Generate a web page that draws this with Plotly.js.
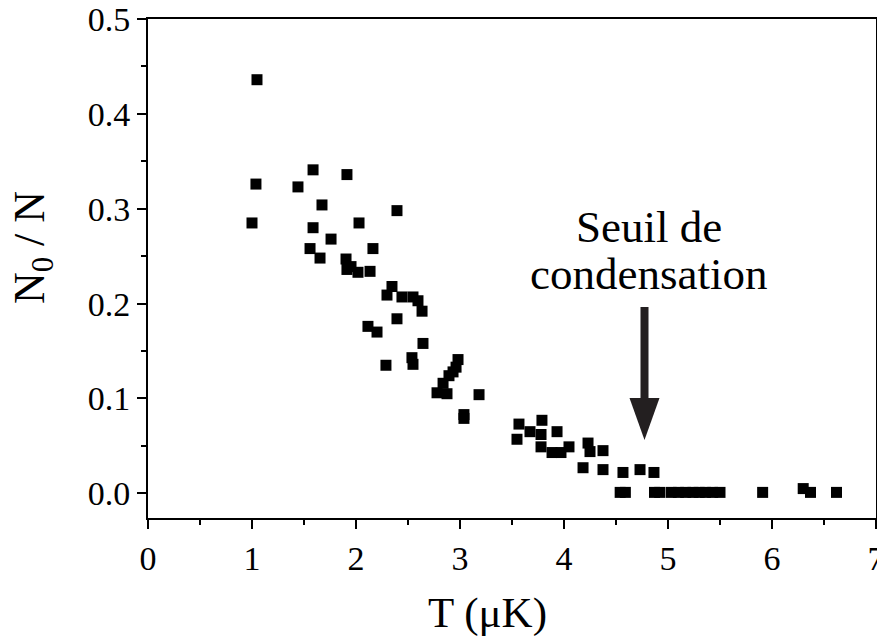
<!DOCTYPE html>
<html>
<head>
<meta charset="utf-8">
<script src="https://cdn.plot.ly/plotly-3.0.1.min.js"></script>
<style>html,body{margin:0;padding:0;background:#fff;}#chart{width:877px;height:641px;}</style>
</head>
<body>
<div id="chart"></div>
<script>
// Temperature T (µK)
const T = [
  1.048, 1.038, 1.00, 1.587, 1.442, 1.913, 1.673, 2.394, 1.587, 2.029,
  1.76, 1.558, 1.654, 2.163, 1.904, 1.952, 1.913, 2.019, 2.135, 2.346,
  2.298, 2.442, 2.548, 2.596, 2.635, 2.394, 2.115, 2.202, 2.644, 2.538,
  2.548, 2.288, 2.981, 2.962, 2.933, 2.894, 2.837, 2.779, 2.875, 3.183,
  3.038, 3.038, 3.567, 3.673, 3.548, 3.788, 3.779, 3.933, 3.779, 3.885,
  3.971, 4.048, 4.231, 4.25, 4.375, 4.183, 4.375, 4.567, 4.731, 4.865,
  4.54, 4.59, 4.87, 4.92, 5.03, 5.10, 5.17, 5.24, 5.30, 5.36,
  5.43, 5.50, 5.91, 6.30, 6.37, 6.62
];
// Condensed fraction N0/N
const N0overN = [
  0.436, 0.326, 0.285, 0.341, 0.323, 0.336, 0.304, 0.298, 0.280, 0.285,
  0.268, 0.258, 0.248, 0.258, 0.247, 0.239, 0.236, 0.233, 0.234, 0.218,
  0.209, 0.207, 0.207, 0.203, 0.192, 0.184, 0.176, 0.170, 0.158, 0.143,
  0.136, 0.135, 0.141, 0.133, 0.128, 0.124, 0.116, 0.106, 0.105, 0.104,
  0.083, 0.079, 0.073, 0.065, 0.057, 0.077, 0.062, 0.065, 0.049, 0.043,
  0.043, 0.049, 0.053, 0.044, 0.045, 0.027, 0.025, 0.022, 0.025, 0.022,
  0.001, 0.001, 0.001, 0.001, 0.001, 0.001, 0.001, 0.001, 0.001, 0.001,
  0.001, 0.001, 0.001, 0.005, 0.001, 0.001
];
const xTickVals = [0, 1, 2, 3, 4, 5, 6, 7];
const xTickText = ['0', '1', '2', '3', '4', '5', '6', '7'];
const yTickVals = [0.0, 0.1, 0.2, 0.3, 0.4, 0.5];
const yTickText = ['0.0', '0.1', '0.2', '0.3', '0.4', '0.5'];
const xTitle = 'T (μK)';
const yTitle = 'N<sub>0</sub> / N';

// annotation / arrow placement (not data)
const ARROW_X = 4.774;
const ARROW_TIP_Y = 0.0562;
const ARROW_TOP_Y = 0.1964;
const ARROW_HEADBASE_Y = 0.100;

const FONT = '"Liberation Serif", "Times New Roman", Times, serif';

const trace = {
  x: T, y: N0overN, type: 'scatter', mode: 'markers',
  marker: {symbol: 'square', size: 11, color: '#000'},
  hoverinfo: 'skip'
};

function axisBase() {
  return {
    showgrid: false, zeroline: false, showline: true, linecolor: '#000', linewidth: 2,
    mirror: true, ticks: 'outside', tickcolor: '#000', tickwidth: 2, ticklen: 9,
    tickfont: {family: FONT, size: 34, color: '#000'}, tickmode: 'array',
    ticklabeloverflow: 'allow'
  };
}

const layout = {
  width: 877, height: 641,
  margin: {l: 148, r: 1, t: 19, b: 123},
  paper_bgcolor: '#fff', plot_bgcolor: '#fff',
  showlegend: false,
  font: {family: FONT, color: '#000', size: 34},
  xaxis: Object.assign(axisBase(), {
    range: [0, 7], tickvals: xTickVals, ticktext: xTickText,
    minor: {ticks: 'outside', ticklen: 5, tickwidth: 2, tickcolor: '#000', tickvals: [0.5,1.5,2.5,3.5,4.5,5.5,6.5]}
  }),
  yaxis: Object.assign(axisBase(), {
    range: [-0.026, 0.5], tickvals: yTickVals, ticktext: yTickText,
    minor: {ticks: 'outside', ticklen: 5, tickwidth: 2, tickcolor: '#000', tickvals: [0.05,0.15,0.25,0.35,0.45]}
  }),
  annotations: [
    {x: 0.4657, y: -0.190, xref: 'paper', yref: 'paper', text: xTitle, showarrow: false,
     font: {family: FONT, size: 43, color: '#000'}, xanchor: 'center', yanchor: 'middle'},
    {x: -0.1593, y: 0.541, xref: 'paper', yref: 'paper', text: yTitle, showarrow: false, textangle: -90,
     font: {family: FONT, size: 44, color: '#000'}, xanchor: 'center', yanchor: 'middle'},
    {x: 4.817, y: 0.281, xref: 'x', yref: 'y', text: 'Seuil de', showarrow: false,
     font: {family: FONT, size: 45, color: '#000'}, xanchor: 'center', yanchor: 'middle'},
    {x: 4.817, y: 0.231, xref: 'x', yref: 'y', text: 'condensation', showarrow: false,
     font: {family: FONT, size: 45, color: '#000'}, xanchor: 'center', yanchor: 'middle'}
  ],
  shapes: [
    {type: 'line', xref: 'x', yref: 'y', x0: ARROW_X, x1: ARROW_X, y0: ARROW_TOP_Y, y1: ARROW_HEADBASE_Y,
     line: {color: '#231f20', width: 8}},
    {type: 'path', xref: 'x', yref: 'y', xsizemode: 'pixel', ysizemode: 'pixel',
     xanchor: ARROW_X, yanchor: ARROW_TIP_Y, path: 'M-15,42 L15,42 L0,0 Z',
     fillcolor: '#231f20', line: {width: 0}}
  ]
};

Plotly.newPlot('chart', [trace], layout, {staticPlot: true, displayModeBar: false});
</script>
</body>
</html>
